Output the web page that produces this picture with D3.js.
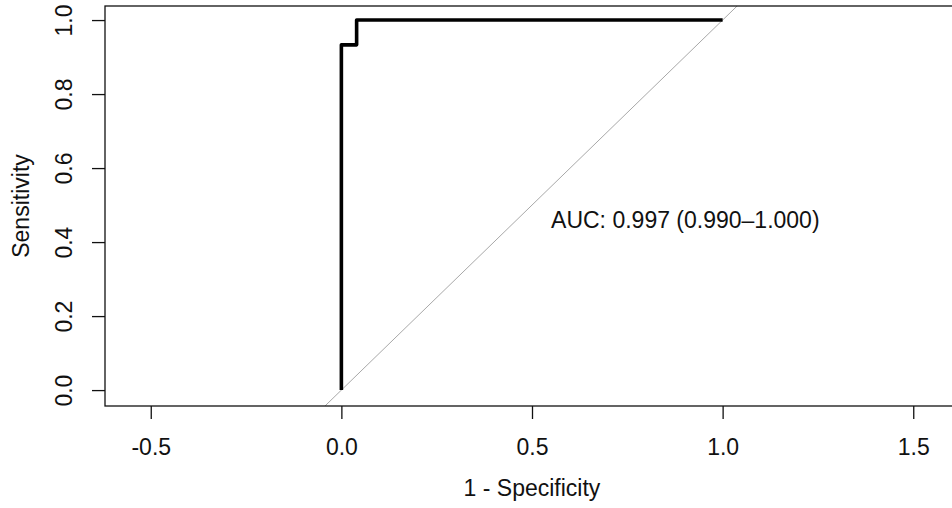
<!DOCTYPE html>
<html>
<head>
<meta charset="utf-8">
<script src="https://cdn.jsdelivr.net/npm/d3@7"></script>
<style>
  html, body { margin: 0; padding: 0; background: #fff; }
  svg { display: block; }
  text { font-family: "Liberation Sans", Arial, sans-serif; fill: #111; }
</style>
</head>
<body>
<svg id="chart" width="952" height="508"></svg>
<script>
// ---- data ----
const rocFpr = [0, 0, 0.04, 0.04, 1];           // 1 - specificity
const rocTpr = [0, 0.933, 0.933, 1, 1];         // sensitivity
const xTicks = [-0.5, 0, 0.5, 1, 1.5];
const yTicks = [0, 0.2, 0.4, 0.6, 0.8, 1];
const diagonal = [[-1, -1], [2, 2]];
const aucLabel = "AUC: 0.997 (0.990\u20131.000)";
const xTitle = "1 - Specificity";
const yTitle = "Sensitivity";

// ---- layout ----
const plot = { left: 105, right: 959, top: 6, bottom: 406 };
const fontSize = 23;
const fmt = d => d.toFixed(1);   // plain hyphen-minus like R

const svg = d3.select("#chart");

const x = d3.scaleLinear().domain([-0.62, 1.62]).range([plot.left, plot.right]);
const y = d3.scaleLinear().domain([-0.043, 1.038]).range([plot.bottom, plot.top]);

svg.append("defs").append("clipPath").attr("id", "clip")
  .append("rect")
  .attr("x", plot.left).attr("y", plot.top)
  .attr("width", plot.right - plot.left).attr("height", plot.bottom - plot.top);

const g = svg.append("g").attr("clip-path", "url(#clip)");

// diagonal reference line
g.append("path")
  .datum(diagonal)
  .attr("d", d3.line().x(d => x(d[0])).y(d => y(d[1])))
  .attr("fill", "none")
  .attr("stroke", "#a8a8a8")
  .attr("stroke-width", 1);

// ROC curve
const rocData = rocFpr.map((f, i) => [f, rocTpr[i]]);
g.append("path")
  .datum(rocData)
  .attr("d", d3.line().x(d => x(d[0])).y(d => y(d[1])))
  .attr("fill", "none")
  .attr("stroke", "#000")
  .attr("stroke-width", 3.6)
  .attr("stroke-linejoin", "round")
  .attr("stroke-linecap", "butt");

// box
svg.append("rect")
  .attr("x", plot.left).attr("y", plot.top)
  .attr("width", plot.right - plot.left).attr("height", plot.bottom - plot.top)
  .attr("fill", "none").attr("stroke", "#111").attr("stroke-width", 1.3);

// x axis
const xAxis = d3.axisBottom(x).tickValues(xTicks).tickFormat(fmt)
  .tickSize(13).tickPadding(20);
const gx = svg.append("g").attr("transform", `translate(0,${plot.bottom})`).call(xAxis);
gx.select(".domain").remove();
gx.selectAll(".tick line").attr("stroke", "#111").attr("stroke-width", 1.3);
gx.selectAll(".tick text").attr("font-size", fontSize).attr("font-family", "Liberation Sans, Arial, sans-serif").attr("fill", "#111");

// y axis
const yAxis = d3.axisLeft(y).tickValues(yTicks).tickFormat(fmt)
  .tickSize(13).tickPadding(0);
const gy = svg.append("g").attr("transform", `translate(${plot.left},0)`).call(yAxis);
gy.select(".domain").remove();
gy.selectAll(".tick line").attr("stroke", "#111").attr("stroke-width", 1.3);
gy.selectAll(".tick text")
  .attr("font-size", fontSize).attr("font-family", "Liberation Sans, Arial, sans-serif").attr("fill", "#111")
  .attr("x", null).attr("dy", null)
  .attr("text-anchor", "middle")
  .attr("transform", "translate(-33,0) rotate(-90)");

// titles
svg.append("text")
  .attr("x", 532)
  .attr("y", 496)
  .attr("text-anchor", "middle")
  .attr("font-size", fontSize)
  .text(xTitle);

svg.append("text")
  .attr("transform", `translate(29,${(plot.top + plot.bottom) / 2}) rotate(-90)`)
  .attr("text-anchor", "middle")
  .attr("font-size", fontSize)
  .text(yTitle);

// AUC label
svg.append("text")
  .attr("x", x(0.55))
  .attr("y", y(0.5) + 23)
  .attr("font-size", fontSize)
  .text(aucLabel);
</script>
</body>
</html>
